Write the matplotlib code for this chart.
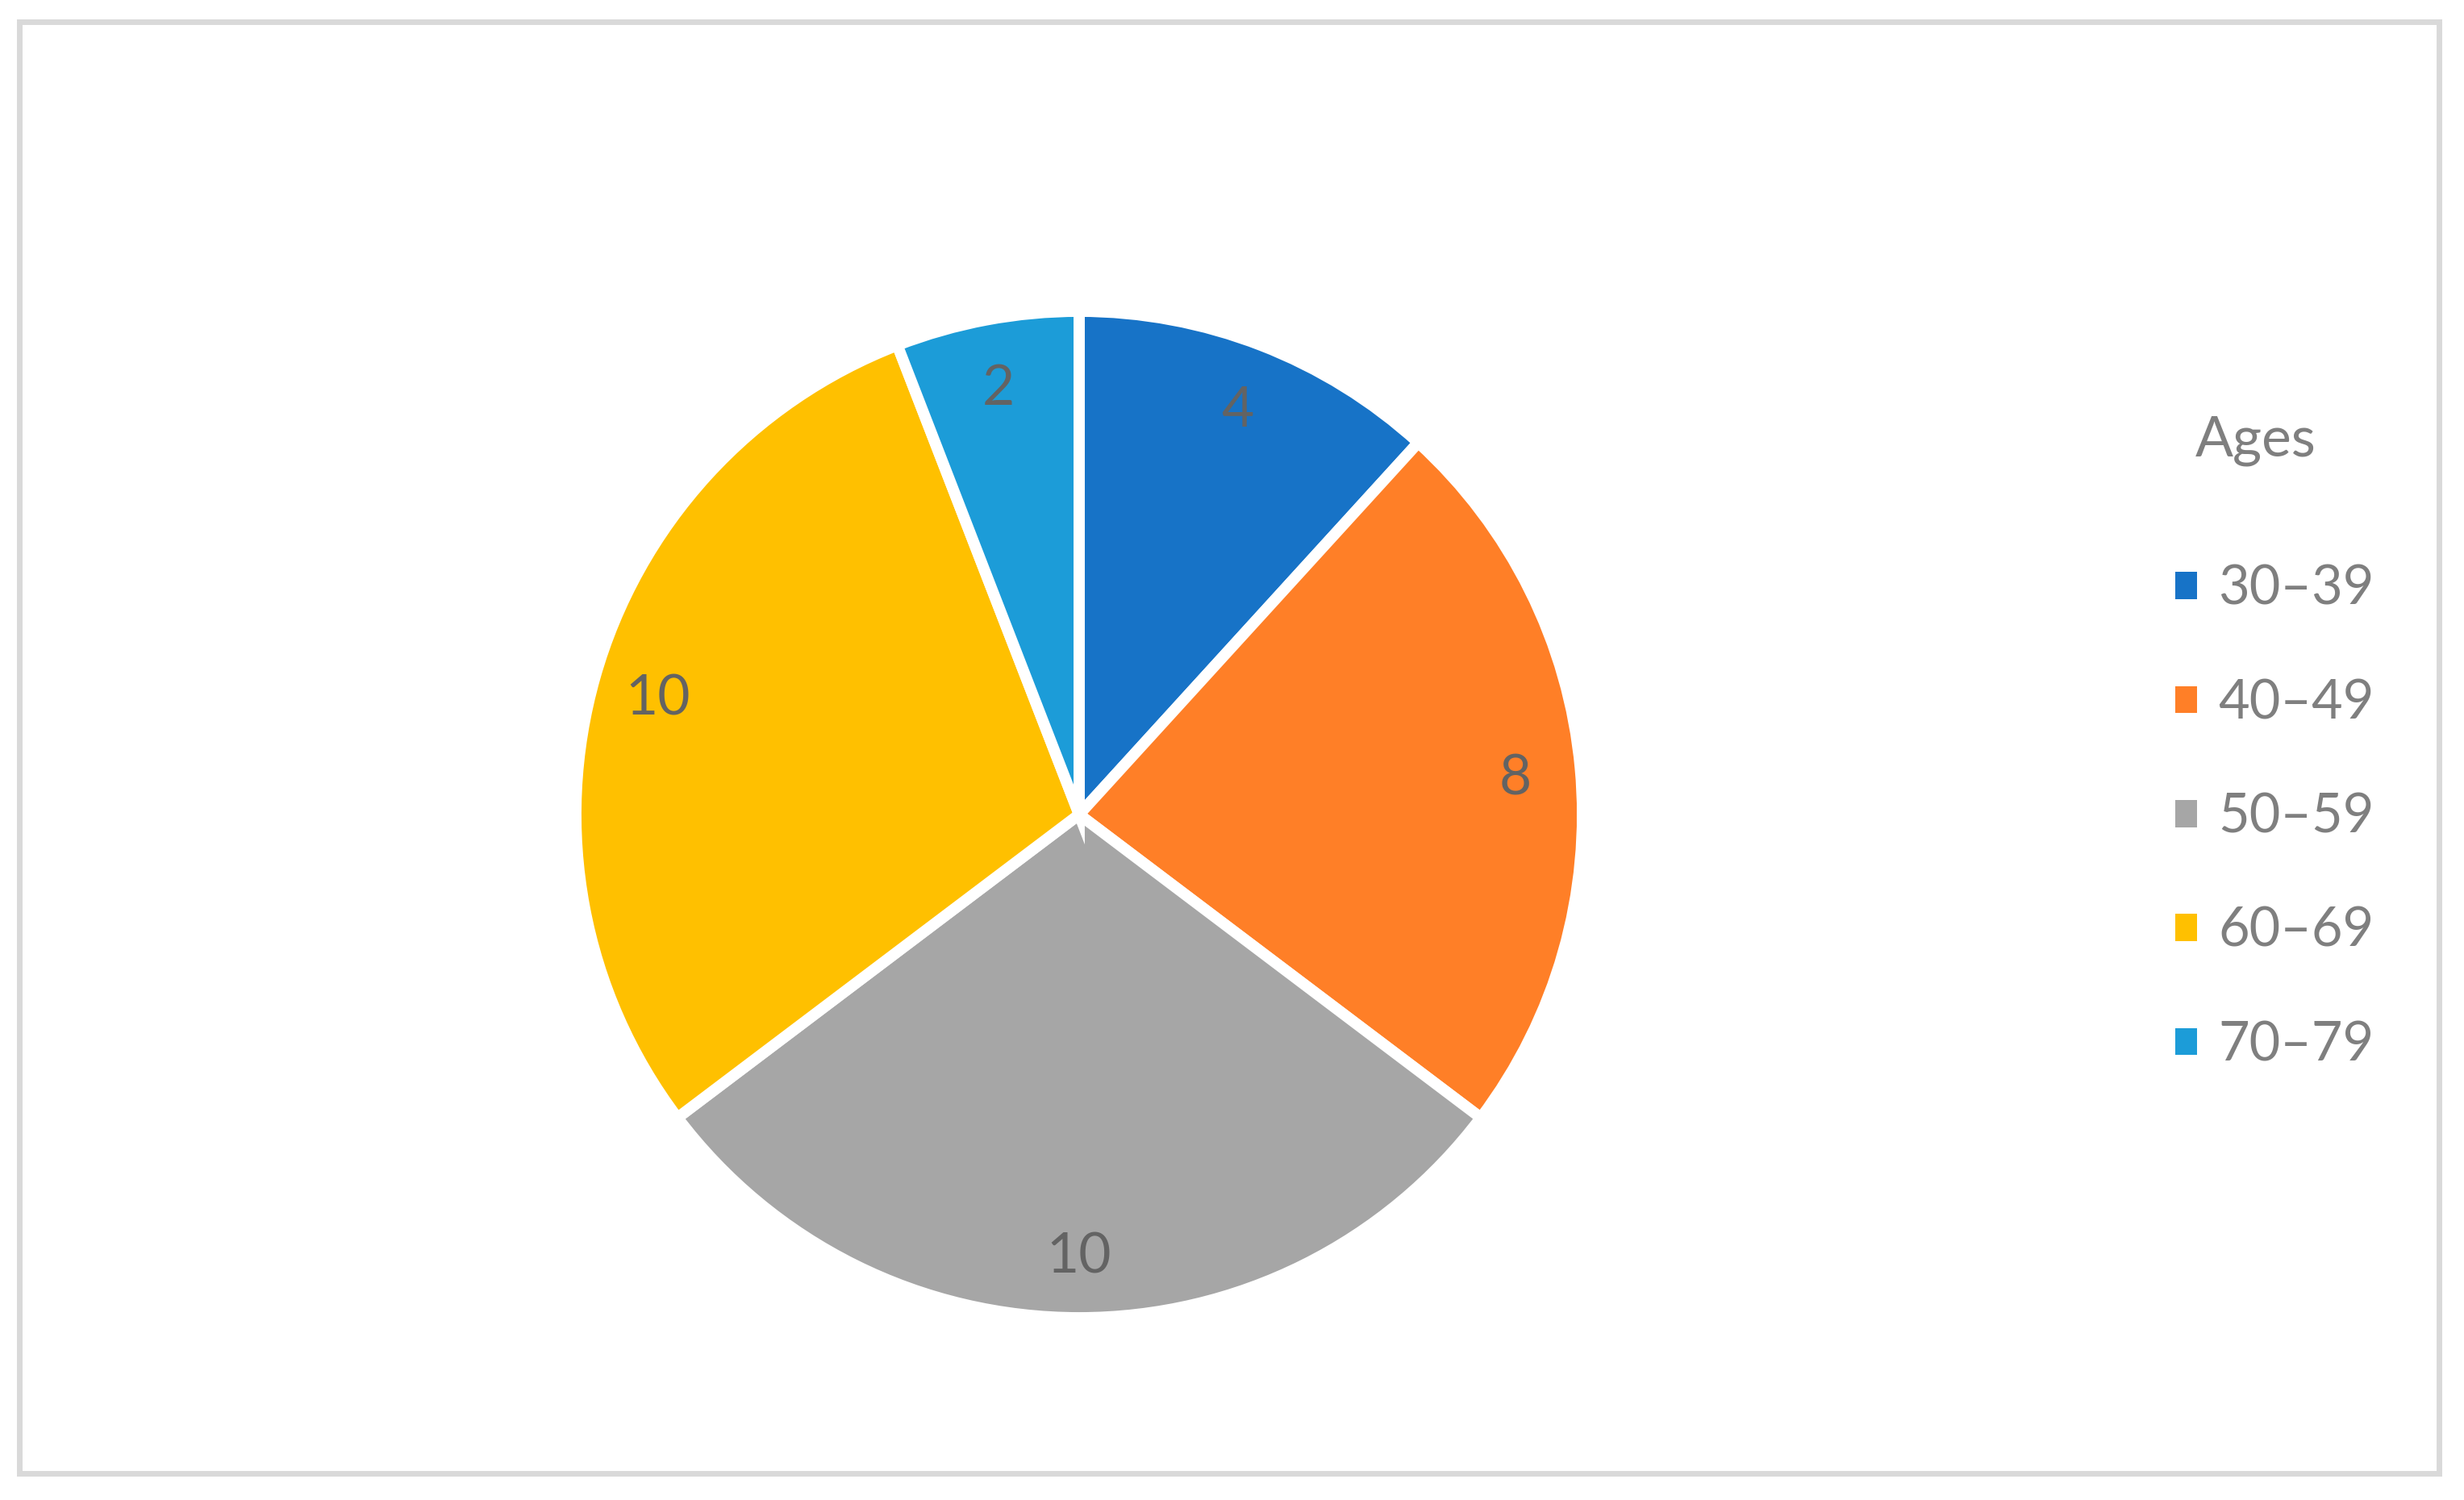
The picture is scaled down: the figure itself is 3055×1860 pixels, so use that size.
import matplotlib.pyplot as plt
from matplotlib.patches import Patch, Rectangle

plt.rcParams['font.family'] = ['Lato', 'DejaVu Sans']

# Data
ages = ['30–39', '40–49', '50–59', '60–69', '70–79']
counts = [4, 8, 10, 10, 2]
colors = ['#1773C7', '#FF7F27', '#A6A6A6', '#FFC000', '#1C9CD8']

W, H, DPI = 3055, 1860, 200
fig = plt.figure(figsize=(W / DPI, H / DPI), dpi=DPI)

# Pie axes (center ~ (1338, 1010) px, radius ~ 624 px)
R = 624
lim = 1.02
half = lim * R
cx, cy = 1338, 1010
ax = fig.add_axes([(cx - half) / W, (H - cy - half) / H, 2 * half / W, 2 * half / H])

wedges, texts = ax.pie(counts, colors=colors, startangle=90, counterclock=False,
                       labels=[str(c) for c in counts], labeldistance=0.87,
                       wedgeprops=dict(edgecolor='white', linewidth=5),
                       textprops=dict(color='#636363', fontsize=25))
for t in texts:
    t.set_horizontalalignment('center')
    t.set_verticalalignment('center_baseline')
ax.set_xlim(-lim, lim)
ax.set_ylim(-lim, lim)
ax.set_aspect('equal')
ax.axis('off')

# Legend
handles = [Patch(facecolor=c, edgecolor='none') for c in colors]
leg = fig.legend(handles, ages, loc='upper left',
                 bbox_to_anchor=(2697 / W, 1 - 700 / H),
                 frameon=False, fontsize=24, labelcolor='#7F7F7F',
                 handlelength=0.4, handleheight=0.4, handletextpad=0.4,
                 labelspacing=1.19, borderpad=0, borderaxespad=0)
fig.text(2797 / W, 1 - 546 / H, 'Ages', ha='center', va='center',
         fontsize=25, color='#7F7F7F')

# Outer border
x0, x1 = 23.5 / W, 3023.5 / W
y0, y1 = 1 - 1826.5 / H, 1 - 26.5 / H
fig.add_artist(Rectangle((x0, y0), x1 - x0, y1 - y0, transform=fig.transFigure,
                         fill=False, edgecolor='#D9D9D9', linewidth=2.5))

fig.savefig('out.png', dpi=DPI, facecolor='white')
